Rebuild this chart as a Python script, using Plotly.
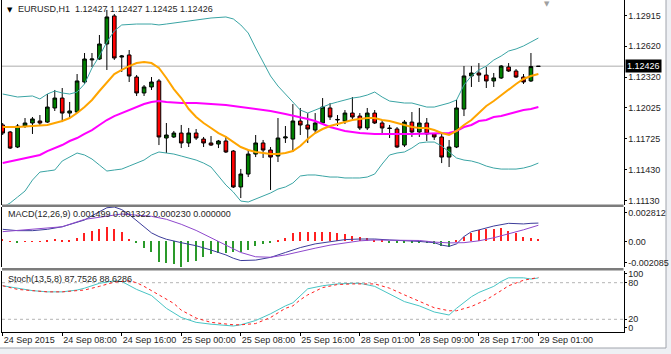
import plotly.graph_objects as go

# ---------------- data ----------------
bars = list(range(73))
opens = [1.11860,1.11792,1.11647,1.11850,1.11879,1.11898,1.11888,1.12024,1.12120,1.11975,
         1.11985,1.12275,1.12488,1.12497,1.12642,1.12913,1.12516,1.12536,1.12323,1.12169,
         1.12227,1.12285,1.11734,1.11744,1.11782,1.11686,1.11782,1.11724,1.11686,1.11676,
         1.11705,1.11608,1.11261,1.11386,1.11579,1.11686,1.11618,1.11560,1.11734,1.11724,
         1.11898,1.11860,1.11811,1.11879,1.12024,1.11908,1.11898,1.11975,1.11946,1.11831,
         1.11975,1.11879,1.11831,1.11821,1.11666,1.11888,1.11792,1.11879,1.11773,1.11744,
         1.11550,1.11647,1.12014,1.12333,1.12362,1.12342,1.12285,1.12314,1.12420,1.12381,
         1.12323,1.12285,1.12427]
highs = [1.11879,1.11802,1.11869,1.11927,1.11937,1.11956,1.12159,1.12198,1.12217,1.12082,
         1.12352,1.12555,1.12555,1.12729,1.12971,1.12932,1.12536,1.12584,1.12342,1.12246,
         1.12323,1.12304,1.11879,1.11802,1.11860,1.11831,1.11821,1.11744,1.11753,1.11715,
         1.11753,1.11618,1.11435,1.11618,1.11763,1.11715,1.11647,1.11927,1.11850,1.12062,
         1.12024,1.11975,1.11975,1.12120,1.12072,1.11956,1.12004,1.12130,1.11975,1.12024,
         1.12004,1.11908,1.11860,1.11840,1.11908,1.11985,1.12024,1.11927,1.11782,1.11782,
         1.11715,1.12101,1.12429,1.12429,1.12458,1.12420,1.12362,1.12439,1.12458,1.12400,
         1.12352,1.12555,1.12427]
lows = [1.11763,1.11628,1.11637,1.11831,1.11773,1.11860,1.11879,1.11995,1.11888,1.11927,
        1.11975,1.12256,1.12420,1.12488,1.12391,1.12488,1.12372,1.12275,1.12140,1.12140,
        1.12198,1.11666,1.11589,1.11734,1.11637,1.11647,1.11715,1.11647,1.11657,1.11637,
        1.11589,1.11251,1.11154,1.11357,1.11550,1.11541,1.11232,1.11502,1.11686,1.11599,
        1.11763,1.11686,1.11782,1.11869,1.11908,1.11850,1.11869,1.11918,1.11811,1.11811,
        1.11869,1.11782,1.11734,1.11637,1.11647,1.11744,1.11744,1.11705,1.11715,1.11492,
        1.11454,1.11637,1.11946,1.12227,1.12275,1.12217,1.12227,1.12304,1.12372,1.12314,
        1.12256,1.12275,1.12425]
closes = [1.11782,1.11637,1.11850,1.11879,1.11918,1.11879,1.12033,1.12120,1.11975,1.11995,
          1.12285,1.12497,1.12497,1.12642,1.12903,1.12507,1.12526,1.12333,1.12169,1.12227,
          1.12275,1.11744,1.11763,1.11782,1.11686,1.11782,1.11734,1.11686,1.11666,1.11705,
          1.11599,1.11261,1.11386,1.11579,1.11686,1.11618,1.11550,1.11734,1.11744,1.11898,
          1.11860,1.11821,1.11879,1.12033,1.11937,1.11913,1.11975,1.11937,1.11831,1.11975,
          1.11879,1.11831,1.11826,1.11647,1.11888,1.11792,1.11879,1.11773,1.11744,1.11550,
          1.11647,1.12024,1.12333,1.12362,1.12342,1.12285,1.12314,1.12429,1.12381,1.12323,
          1.12275,1.12424,1.12426]

bb_up_idx = [0,2,4,5,6,7,8,9,10,11,12,13,14,15,16,18,20,21,22,24,26,28,30,31,32,
             33,34,35,36,37,38,39,40,41,42,43,44,45,46,47,48,49,50,51,52,53,54,55,56,57,
             58,59,60,61,62,63,64,65,66,67,68,69,70,71,72]
bb_up = [1.12159,1.12130,1.12140,1.12111,1.12159,1.12188,1.12169,1.12159,1.12178,1.12256,
         1.12410,1.12526,1.12661,1.12768,1.12826,1.12835,1.12835,1.12826,1.12835,1.12855,
         1.12874,1.12893,1.12903,1.12884,1.12826,
         1.12748,1.12603,1.12468,1.12333,1.12236,1.12159,1.12082,1.12004,1.11975,1.12004,
         1.12033,1.12062,1.12082,1.12101,1.12120,1.12130,1.12149,1.12178,1.12130,1.12091,
         1.12082,1.12072,1.12072,1.12053,1.12033,1.12033,1.12053,1.12072,1.12101,1.12246,
         1.12333,1.12391,1.12429,1.12487,1.12526,1.12574,1.12594,1.12623,1.12661,1.12700]
bb_low = [1.11067,1.11106,1.11164,1.11222,1.11328,1.11405,1.11415,1.11425,1.11512,1.11550,
          1.11589,1.11570,1.11531,1.11473,1.11415,1.11425,1.11434,1.11463,1.11492,1.11521,
          1.11570,1.11599,1.11589,1.11579,1.11560,1.11541,1.11521,1.11492,1.11454,1.11367,
          1.11280,1.11212,1.11125,1.11116,1.11145,1.11174,1.11203,1.11241,1.11261,1.11299,
          1.11367,1.11377,1.11377,1.11367,1.11357,1.11357,1.11348,1.11348,1.11348,1.11357,
          1.11386,1.11483,1.11570,1.11589,1.11599,1.11637,1.11686,1.11695,1.11695,1.11657,
          1.11599,1.11541,1.11521,1.11512,1.11492,1.11463,1.11444,1.11434,1.11434,1.11434,
          1.11444,1.11463,1.11492]
ma_fast_idx = [0,2,4,6] + list(range(7, 73))
ma_fast = [1.11840,1.11840,1.11850,1.11860,
           1.11879,1.11898,1.11927,1.11975,1.12033,1.12101,1.12188,1.12275,1.12352,1.12391,
           1.12429,1.12458,1.12468,1.12458,1.12410,1.12314,1.12207,1.12120,1.12014,1.11937,
           1.11879,1.11831,1.11782,1.11744,1.11695,1.11647,1.11618,1.11599,1.11589,1.11579,
           1.11579,1.11589,1.11608,1.11657,1.11724,1.11782,1.11821,1.11850,1.11869,1.11889,
           1.11908,1.11918,1.11927,1.11927,1.11908,1.11898,1.11879,1.11860,1.11840,1.11831,
           1.11831,1.11811,1.11782,1.11763,1.11802,1.11860,1.11908,1.11975,1.12043,1.12091,
           1.12149,1.12207,1.12256,1.12304,1.12333,1.12352]
ma_slow_idx = [0,2,4,5,6,7,8,9,10,11,12,13,14,15,16,17,18,19,20,21,22,24,26,28,30,32,34,
               36,38,40,41,42,43,44,45,46,47,48,50,55,60,61,62,63,64,65,66,67,68,69,70,71,72]
ma_slow = [1.11492,1.11521,1.11550,1.11570,1.11608,1.11637,1.11666,1.11705,1.11734,1.11773,
           1.11811,1.11860,1.11908,1.11946,1.11975,1.12004,1.12033,1.12062,1.12082,1.12091,
           1.12082,1.12072,1.12072,1.12062,1.12053,1.12033,1.12014,1.11995,1.11966,1.11937,
           1.11918,1.11898,1.11869,1.11840,1.11821,1.11802,1.11792,1.11782,1.11773,1.11773,
           1.11782,1.11802,1.11840,1.11860,1.11898,1.11908,1.11937,1.11946,1.11966,1.11985,
           1.12004,1.12014,1.12033]

macd_hist = [0.00018,0.00003,-0.00005,0.00002,0.00002,0.00003,0.00007,0.00018,0.00012,0.00012,
             0.00031,0.00067,0.00086,0.00099,0.00121,0.00099,0.00075,0.00020,-0.00015,-0.00056,
             -0.00083,-0.00165,-0.00178,-0.00184,-0.002085,-0.00165,-0.00156,-0.00129,-0.00102,-0.00091,
             -0.00091,-0.00088,-0.00083,-0.00069,-0.00037,-0.00023,-0.00010,0.00012,0.00026,0.00067,
             0.00075,0.00075,0.00075,0.00080,0.00075,0.00067,0.00058,0.00048,0.00034,0.00026,
             0.00012,0.00007,-0.00010,-0.00015,-0.00015,-0.00015,-0.00015,-0.00015,-0.00023,-0.00037,
             -0.00042,0.00012,0.00039,0.00072,0.00094,0.00099,0.00099,0.00107,0.00088,0.00072,
             0.00039,0.00026,0.00023]
macd_idx = [0,2,4,6,8,10,11,12,13,14,15,16,17,18,19,20,21,22,24,26,28,30,31,32,34,36,38,40,
            42,44,46,48,50,52,54,56,58,59,60,61,62,63,64,66,68,70,71,72]
macd_main = [0.00099,0.00088,0.00088,0.00099,0.00120,0.00160,0.00175,0.00210,0.00245,0.00275,
             0.002812,0.00260,0.00220,0.00170,0.00120,0.00070,0.00040,0.00018,-0.00010,-0.00035,
             -0.00070,-0.00110,-0.00137,-0.00156,-0.00152,-0.00130,-0.00090,-0.00050,-0.00020,0.0,
             0.00015,0.00020,0.00020,0.00012,0.00007,0.0,-0.00010,-0.00030,-0.00040,-0.00020,
             0.00040,0.00080,0.00094,0.00126,0.00148,0.00143,0.00148,0.001499]
signal_idx = [0,4,8,11,14,16,18,20,22,24,26,28,30,32,34,36,38,40,42,44,46,48,50,54,56,58,
              60,62,64,66,68,70,72]
macd_signal = [0.00080,0.00099,0.00120,0.00180,0.00208,0.00224,0.00215,0.00205,0.00181,0.00140,
               0.00090,0.00030,-0.00030,-0.00090,-0.00125,-0.00129,-0.00110,-0.00080,-0.00055,-0.00030,
               -0.00010,0.00005,0.00012,0.00012,0.00008,-0.00005,-0.00012,-0.00010,0.00005,0.00030,
               0.00060,0.00095,0.001322]

stoch_k_idx = [0,2,4,6,8,10,11,13,15,16,17,18,20,22,24,26,28,30,31,32,34,36,38,39,40,41,
               43,45,47,48,50,52,54,56,58,60,61,63,64,66,67,68,70,71,72]
stoch_k = [75,71,67,65,65,68,71,79,83,82,76,69,59,38,23,15,12,10,9,11,18,29,42,47,58,70,
           75,78,79,79,74,62,49,42,32,27,38,57,64,74,82,88,88,86,87.75]
stoch_d_idx = [0,2,4,6,8,10,11,13,15,17,18,19,20,21,22,23,24,25,26,28,30,31,32,34,36,38,39,
               40,41,43,45,47,50,52,54,56,58,60,61,63,64,65,67,68,70,71,72]
stoch_d = [75,69,67,65,65,67,68,74,81,83,80,74,67,60,52,46,35,28,22,15,12,11,11,13,23,38,42,
           52,60,72,77,78,78,71,60,49,39,34,34,41,46,52,67,75,84,86,88.63]

price_ticks = [1.12915, 1.12620, 1.12320, 1.12025, 1.11725, 1.11430, 1.11130]
macd_min, macd_max = -0.002085, 0.002812
macd_tick_text = ["0.002812", "0.00", "-0.002085"]
stoch_tick_text = ["100", "80", "20", "0"]
time_tick_bars = [0, 8, 16, 24, 32, 40, 48, 56, 64, 72]
time_tick_text = ["24 Sep 2015", "24 Sep 08:00", "24 Sep 16:00", "25 Sep 00:00",
                  "25 Sep 08:00", "25 Sep 16:00", "28 Sep 01:00", "28 Sep 09:00",
                  "28 Sep 17:00", "29 Sep 01:00"]
last_price = 1.12426
title_main = "EURUSD,H1\u00a0 1.12427 1.12427 1.12425 1.12426"
title_macd = "MACD(12,26,9) 0.001499 0.001322 0.000230 0.000000"
title_stoch = "Stoch(13,5,8) 87.7526 88.6286"

# ---------------- layout helpers ----------------
W, H = 671, 354
def py(px):
    return 1 - px / H
def pxx(px):
    return px / W

X_L, X_R = 2.0, 623.5
BAR0, BARW = 2.7, 7.44
xr = [(X_L - BAR0) / BARW, (X_R - BAR0) / BARW]

FONT = "Liberation Sans, Arial, sans-serif"
TXT = "#1e1e1e"

fig = go.Figure()

# main panel
fig.add_trace(go.Scatter(x=bb_up_idx, y=bb_up, mode="lines", line=dict(color="#3aa4a4", width=1), yaxis="y", hoverinfo="skip"))
fig.add_trace(go.Scatter(x=bars, y=bb_low, mode="lines", line=dict(color="#3aa4a4", width=1), yaxis="y", hoverinfo="skip"))
fig.add_trace(go.Scatter(x=ma_slow_idx, y=ma_slow, mode="lines", line=dict(color="#ff00ff", width=2), yaxis="y", hoverinfo="skip"))
fig.add_trace(go.Scatter(x=ma_fast_idx, y=ma_fast, mode="lines", line=dict(color="#ffa500", width=2), yaxis="y", hoverinfo="skip"))
fig.add_trace(go.Candlestick(x=bars, open=opens, high=highs, low=lows, close=closes, yaxis="y",
                             increasing=dict(line=dict(color="black", width=1), fillcolor="#008000"),
                             decreasing=dict(line=dict(color="black", width=1), fillcolor="#ff0000"),
                             whiskerwidth=0, hoverinfo="skip"))

# MACD panel
fig.add_trace(go.Bar(x=bars, y=macd_hist, width=0.2, yaxis="y2",
                     marker=dict(color=["#ff2020" if v > 0 else "#2a9a2a" for v in macd_hist], line=dict(width=0)),
                     hoverinfo="skip"))
fig.add_trace(go.Scatter(x=macd_idx, y=macd_main, mode="lines", line=dict(color="#3c3c9a", width=1), yaxis="y2", hoverinfo="skip"))
fig.add_trace(go.Scatter(x=signal_idx, y=macd_signal, mode="lines", line=dict(color="#8e48cc", width=1), yaxis="y2", hoverinfo="skip"))

# Stoch panel
fig.add_trace(go.Scatter(x=stoch_k_idx, y=stoch_k, mode="lines", line=dict(color="#48c4c4", width=1), yaxis="y3", hoverinfo="skip"))
fig.add_trace(go.Scatter(x=stoch_d_idx, y=stoch_d, mode="lines", line=dict(color="#ff2020", width=1, dash="dot"), yaxis="y3", hoverinfo="skip"))

main_dom = [py(204.5), py(0)]
macd_dom = [py(267), py(207)]
stoch_dom = [py(331.5), py(270.5)]
main_range = [1.110918, 1.13067]

macd_span = macd_max - macd_min
macd_tickvals = [macd_max - 0.095 * macd_span, 0, macd_min + 0.075 * macd_span]
stoch_tickvals = [95, 80, 20, 6]

axis_common = dict(showgrid=False, zeroline=False, showline=True, linecolor="black", linewidth=1,
                   mirror=True, side="right", ticks="outside", ticklen=2, tickcolor="black",
                   tickfont=dict(family=FONT, size=9, color=TXT), anchor="x", fixedrange=True,
                   automargin=False)

fig.update_layout(
    width=W, height=H, margin=dict(l=0, r=0, t=0, b=0, autoexpand=False),
    paper_bgcolor="white", plot_bgcolor="white", showlegend=False,
    bargap=0, hovermode=False,
    xaxis=dict(domain=[pxx(X_L), pxx(X_R)], range=xr, anchor="y3", showgrid=False, zeroline=False,
               showline=True, linecolor="black", linewidth=1, ticks="outside", ticklen=3, tickcolor="black",
               tickmode="array", tickvals=time_tick_bars, ticktext=time_tick_text, tickangle=0,
               ticklabelposition="outside right", tickfont=dict(family=FONT, size=9, color=TXT),
               rangeslider=dict(visible=False), fixedrange=True, automargin=False),
    yaxis=dict(domain=main_dom, range=main_range, tickmode="array", tickvals=price_ticks,
               tickformat=".5f", **axis_common),
    yaxis2=dict(domain=macd_dom, range=[macd_min, macd_max], tickmode="array", tickvals=macd_tickvals,
                ticktext=macd_tick_text, **axis_common),
    yaxis3=dict(domain=stoch_dom, range=[0, 100], tickmode="array", tickvals=stoch_tickvals,
                ticktext=stoch_tick_text, **axis_common),
)

shapes = []
# window frame right / bottom (behind everything)
shapes.append(dict(type="rect", xref="paper", yref="paper", x0=pxx(666), x1=1, y0=0, y1=1,
                   fillcolor="#eef0f4", line=dict(width=0), layer="below"))
shapes.append(dict(type="rect", xref="paper", yref="paper", x0=0, x1=1, y0=0, y1=py(348),
                   fillcolor="#eef0f4", line=dict(width=0), layer="below"))
shapes.append(dict(type="line", xref="paper", yref="paper", x0=pxx(666), x1=pxx(666), y0=py(348), y1=1,
                   line=dict(color="#a0a4ac", width=1), layer="below"))
shapes.append(dict(type="line", xref="paper", yref="paper", x0=0, x1=pxx(666), y0=py(348), y1=py(348),
                   line=dict(color="#a0a4ac", width=1), layer="below"))
# current price line
shapes.append(dict(type="line", xref="paper", yref="y", x0=pxx(X_L), x1=pxx(X_R), y0=last_price, y1=last_price,
                   line=dict(color="#c8c8c8", width=1.5), layer="below"))
# stoch levels
for lv in (80, 20):
    shapes.append(dict(type="line", xref="paper", yref="y3", x0=pxx(X_L), x1=pxx(X_R), y0=lv, y1=lv,
                       line=dict(color="#b4b4b4", width=1, dash="3px,3px"), layer="below"))
# panel separators
for top, bot in ((204.5, 207), (268, 270.5)):
    shapes.append(dict(type="rect", xref="paper", yref="paper", x0=pxx(X_L), x1=pxx(X_R), y0=py(bot), y1=py(top),
                       fillcolor="#7c7c7c", line=dict(width=0)))
fig.update_layout(shapes=shapes)

ann = []
ann.append(dict(text="▼", xref="paper", yref="paper", x=pxx(5), y=py(9.5), xanchor="left", yanchor="middle",
                showarrow=False, font=dict(family="DejaVu Sans", size=7, color="black")))
ann.append(dict(text=title_main, xref="paper", yref="paper", x=pxx(16), y=py(9), xanchor="left", yanchor="middle",
                showarrow=False, font=dict(family=FONT, size=9, color=TXT)))
ann.append(dict(text=title_macd, xref="paper", yref="paper", x=pxx(6), y=py(214), xanchor="left", yanchor="middle",
                showarrow=False, font=dict(family=FONT, size=9, color=TXT)))
ann.append(dict(text=title_stoch, xref="paper", yref="paper", x=pxx(6), y=py(279), xanchor="left", yanchor="middle",
                showarrow=False, font=dict(family=FONT, size=9, color=TXT)))
ann.append(dict(text=f"{last_price:.5f}", xref="paper", yref="y", x=pxx(624.5), y=last_price, xanchor="left",
                yanchor="middle", showarrow=False, bgcolor="black", borderpad=1,
                font=dict(family=FONT, size=9, color="white")))
ann.append(dict(text="▼", xref="paper", yref="paper", x=pxx(547), y=py(4), xanchor="center", yanchor="middle",
                showarrow=False, font=dict(family="DejaVu Sans", size=7, color="#a0a0a0")))
fig.update_layout(annotations=ann)

fig.write_html("out.html")
